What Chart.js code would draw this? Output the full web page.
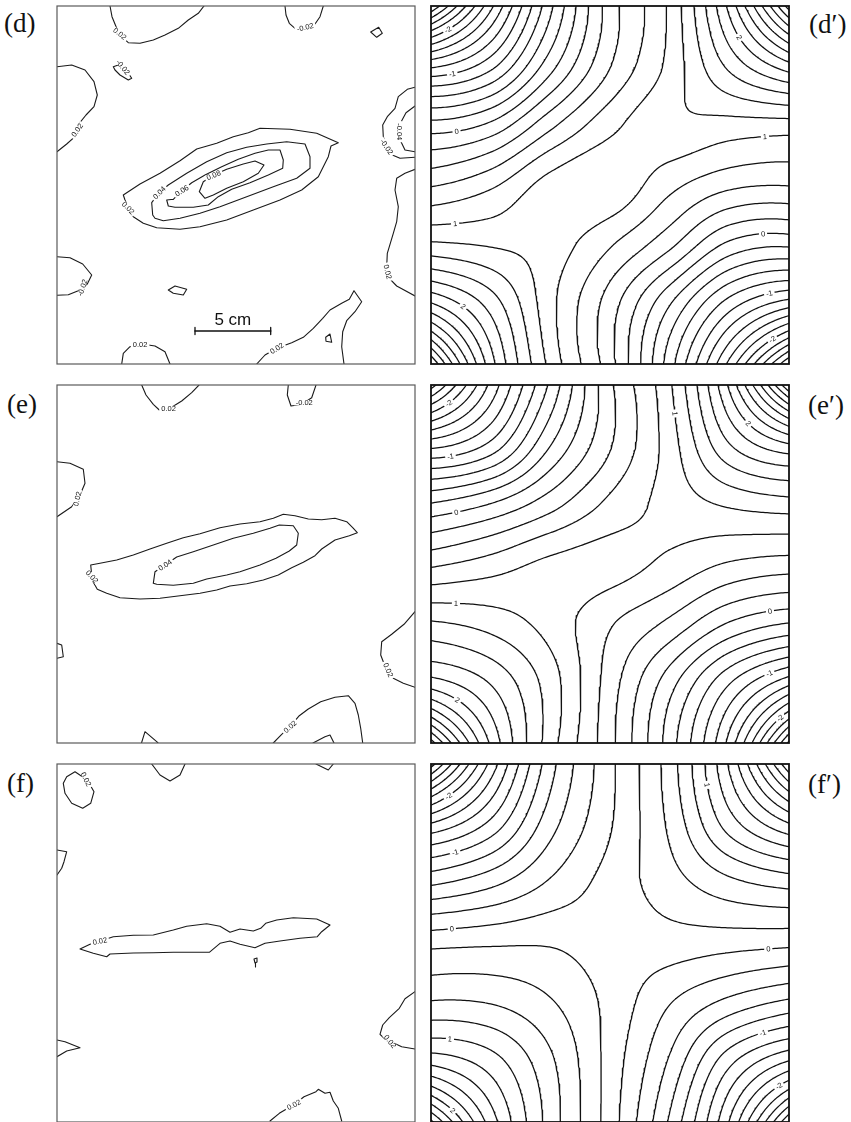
<!DOCTYPE html>
<html>
<head>
<meta charset="utf-8">
<title>Contour maps (d)–(f), (d′)–(f′)</title>
<script src="https://cdn.jsdelivr.net/npm/chart.js@4.4.1/dist/chart.umd.min.js"></script>
<style>
  html, body { margin: 0; padding: 0; background: #fff; }
  #figure { position: relative; width: 851px; height: 1122px; overflow: hidden; background: #fff; }
  #figure canvas { position: absolute; }
  .tag { position: absolute; font-family: "Liberation Serif", "DejaVu Serif", serif; font-size: 27px; line-height: 27px; color: #111; white-space: nowrap; }
</style>
</head>
<body>
<div id="figure"></div>
<script>
// Plate extent in plate units (both axes).
const PLATE = 35.8;

// ---- Measured maps (d), (e), (f): contour polylines, [level, x0, y0, x1, y1, ...]
const dLines = [
  [0.02, 5.3,0, 5.5,1.07, 5.97,2.23, 6.47,3.07, 7.13,3.67, 8.3,3.73, 9.63,3.4, 10.8,2.9, 12.13,2.23, 13.13,1.4, 14.13,0.73, 14.7,0],
  [-0.02, 22.8,0, 22.9,0.9, 23.23,1.73, 23.8,2.23, 24.8,2.13, 25.8,1.8, 26.3,1.07, 26.63,0],
  [0.02, 31.37,2.6, 32.17,2.13, 32.53,2.73, 31.97,3.13, 31.37,2.6],
  [-0.02, 5.63,6.07, 6.13,5.9, 6.8,6.23, 7.47,7.23, 7.13,7.4, 6.3,6.9, 5.8,6.4, 5.63,6.07],
  [0.02, 0,6.07, 1.47,5.9, 2.8,6.4, 3.7,7.57, 4.03,8.9, 3.7,10.07, 2.9,10.9, 2.23,11.73, 1.8,13.07, 0.97,13.8, 0,14.57],
  [0.02, 6.63,18.9, 8.3,17.8, 10.3,16.73, 12.3,15.47, 13.97,14.3, 15.97,13.73, 17.63,13.07, 19.13,12.67, 20.3,12.23, 23.3,12.33, 25.97,12.73, 28.13,13.67, 27.4,14.0, 27.13,15.07, 26.13,17.07, 24.47,18.4, 22.3,19.4, 19.63,20.4, 16.97,21.4, 14.3,22.07, 12.3,22.33, 9.97,22.17, 8.63,21.73, 7.63,21.07, 7.13,20.23, 6.8,19.4, 6.63,18.9],
  [0.04, 9.57,20.9, 9.47,19.67, 10.23,18.67, 11.13,17.9, 12.97,16.73, 14.97,15.57, 16.97,14.67, 18.97,14.13, 20.97,13.8, 22.97,13.57, 24.8,13.8, 25.3,15.07, 25.3,16.23, 23.97,17.23, 21.63,18.07, 18.97,19.07, 16.3,20.07, 14.3,20.73, 12.3,21.23, 10.63,21.47, 9.8,21.23, 9.57,20.9],
  [0.06, 11.63,19.33, 12.47,18.47, 13.47,17.67, 14.8,16.9, 16.47,16.07, 18.13,15.33, 19.8,14.73, 21.13,14.4, 22.3,14.4, 22.63,15.4, 22.57,16.23, 21.13,16.9, 19.3,17.67, 17.47,18.33, 16.13,19.07, 15.13,19.9, 13.63,20.13, 11.8,20.13, 11.13,20.0, 10.97,19.4, 11.63,19.33],
  [0.08, 14.23,18.57, 14.63,17.57, 15.63,16.93, 16.97,16.33, 18.63,15.8, 19.8,15.5, 20.7,15.9, 20.13,16.73, 18.63,17.57, 16.97,18.23, 15.63,18.9, 14.8,19.23, 14.23,18.57],
  [-0.02, 35.8,8.13, 35.03,8.33, 34.13,9.07, 33.8,10.23, 33.03,11.07, 32.57,11.9, 32.63,13.07, 32.97,14.07, 33.3,14.8, 34.3,15.23, 35.8,15.13],
  [-0.04, 35.8,10.0, 34.9,10.67, 34.47,11.47, 34.3,12.57, 34.4,13.57, 34.8,14.4, 35.8,14.57],
  [0.02, 35.8,16.33, 34.8,16.73, 33.97,17.23, 33.8,18.4, 34.13,20.07, 33.97,21.57, 33.63,22.73, 33.03,24.73, 32.97,26.07, 33.23,27.23, 33.97,28.0, 35.8,29.0],
  [-0.02, 0,25.07, 1.3,25.17, 2.57,25.8, 3.47,26.9, 3.03,27.8, 2.13,28.47, 1.13,28.87, 0,28.93],
  [0.02, 11.13,28.4, 11.8,28.0, 12.97,28.33, 12.63,28.9, 11.63,28.73, 11.13,28.4],
  [0.02, 6.47,35.8, 6.63,34.73, 7.3,34.07, 8.47,33.8, 9.8,34.0, 10.8,34.57, 11.3,35.8],
  [0.02, 19.97,35.8, 20.8,34.9, 21.97,34.23, 23.47,33.67, 24.63,33.13, 25.63,32.23, 26.57,31.23, 27.3,30.4, 28.47,29.73, 29.23,29.33, 29.7,28.47, 30.47,29.57, 29.8,30.57, 28.97,31.47, 28.57,32.57, 28.47,34.07, 28.7,35.8],
  [0.02, 26.87,33.13, 27.3,32.8, 27.47,33.63, 26.9,33.53, 26.87,33.13]
];
const eLines = [
  [0.02, 8.47,0, 8.9,1.0, 9.63,1.93, 10.23,2.5, 11.3,2.33, 12.47,1.6, 13.47,0.77, 14.2,0],
  [-0.02, 23.13,0, 23.03,1.0, 23.4,2.1, 24.47,1.93, 25.47,1.27, 25.9,0],
  [0.02, 0,7.67, 1.3,7.83, 2.63,8.43, 2.8,9.83, 2.3,11.0, 1.47,12.17, 0,13.17],
  [0.02, 3.37,18.0, 4.3,17.83, 5.97,17.5, 7.63,17.0, 9.3,16.4, 10.97,15.83, 12.63,15.27, 14.3,14.87, 16.3,14.27, 18.3,13.9, 20.3,13.67, 21.63,13.33, 22.63,12.93, 23.8,13.07, 25.13,13.4, 26.47,13.47, 27.8,13.33, 28.97,13.67, 29.57,14.27, 30.03,14.77, 29.23,15.07, 27.8,15.5, 26.47,16.4, 25.8,17.07, 24.63,17.73, 23.47,18.27, 22.13,19.0, 20.63,19.5, 18.97,19.87, 17.3,20.1, 15.97,20.5, 14.3,20.83, 12.3,21.07, 10.3,21.33, 8.3,21.4, 6.3,21.27, 4.97,20.83, 4.03,20.43, 3.63,19.73, 3.47,19.0, 3.37,18.0],
  [0.04, 9.63,19.83, 9.8,18.67, 10.8,18.0, 11.97,17.2, 13.63,16.67, 15.63,16.0, 17.63,15.33, 19.63,14.83, 21.3,14.33, 22.23,14.0, 23.63,14.07, 24.13,14.83, 23.97,16.0, 23.23,16.6, 21.9,17.33, 20.3,18.0, 18.3,18.67, 16.97,19.0, 14.97,19.4, 13.63,19.83, 11.63,20.03, 9.97,19.93, 9.63,19.83],
  [0.02, 0,25.83, 0.47,26.0, 0.63,27.17, 0,27.33],
  [0.02, 35.8,22.67, 34.7,23.93, 33.47,24.93, 32.47,25.67, 32.37,27.0, 32.63,27.67, 33.63,29.33, 34.63,29.83, 35.8,30.23],
  [0.02, 21.63,35.8, 22.47,34.93, 23.3,34.17, 24.23,33.07, 25.13,32.4, 26.37,31.67, 27.8,31.23, 29.13,31.07, 29.8,31.83, 30.13,33.0, 30.37,34.33, 30.57,35.8],
  [0.02, 25.6,35.8, 26.8,35.17, 27.3,35.0, 27.7,35.8],
  [0.02, 8.45,35.8, 8.8,34.67, 9.97,35.67, 10.1,35.8]
];
const fLines = [
  [0.02, 0.97,1.27, 1.8,0.77, 3.03,1.6, 3.7,2.77, 3.37,3.93, 2.57,4.43, 1.47,3.93, 0.8,2.93, 0.63,1.93, 0.97,1.27],
  [0.02, 9.47,0, 10.3,1.1, 11.3,1.7, 12.3,1.1, 12.8,0],
  [0.02, 25.9,0, 27.13,0.6, 27.63,0],
  [0.02, 0,8.6, 0.97,8.77, 0.7,9.77, 0.47,10.43, 0,11.1],
  [0.02, 2.3,18.5, 3.3,18.03, 5.63,17.27, 7.63,17.13, 9.63,17.1, 11.63,16.6, 12.97,16.23, 14.97,15.97, 16.3,16.23, 17.3,16.83, 18.3,16.5, 19.63,16.7, 20.37,16.43, 20.87,15.93, 21.97,15.6, 23.63,15.37, 25.97,15.5, 27.3,16.1, 26.47,16.77, 26.03,17.27, 24.3,17.43, 22.3,17.7, 20.8,17.93, 19.8,18.37, 18.3,18.03, 17.3,17.7, 16.3,17.93, 15.23,18.83, 13.63,18.83, 11.63,18.83, 9.63,18.87, 7.63,18.9, 5.3,19.0, 4.97,19.27, 3.63,18.93, 2.3,18.5],
  [0.02, 19.7,19.5, 20.0,19.4, 20.0,19.8, 19.8,19.9, 19.7,19.5],
  [0.02, 19.85,19.9, 19.85,20.3],
  [0.02, 35.8,22.77, 34.8,23.47, 34.23,24.43, 33.23,25.37, 32.57,26.1, 32.3,27.03, 32.8,27.5, 34.47,28.27, 35.8,28.5],
  [0.02, 0,27.6, 0.8,27.77, 2.3,28.37, 0.97,28.7, 0,29.27],
  [0.02, 21.3,35.7, 22.23,34.93, 23.63,34.1, 24.7,33.27, 25.9,32.77, 26.13,32.53, 26.8,32.93, 27.3,32.83, 27.63,33.7, 28.13,34.43, 28.47,35.7]
];

// Where the contour values are printed on the measured maps.
const dLabelSpots = [[6.37,2.73],[24.8,2.07],[6.47,6.4],[1.97,12.4],[10.23,18.67],[12.47,18.45],[15.63,16.85],[7.03,20.23],[34.3,12.57],[33.0,14.07],[33.13,26.57],[2.5,28.1],[8.3,33.8],[21.97,34.23]];
const eLabelSpots = [[11.13,2.2],[24.7,1.73],[1.97,11.33],[10.8,18.0],[3.5,19.17],[33.13,28.5],[23.3,34.17]];
const fLabelSpots = [[2.63,1.93],[4.3,17.77],[33.3,27.77],[23.63,34.0]];

// ---- Model maps (d′), (e′), (f′): field on a 7 x 7 node grid, rows from top to bottom.
const dModelGrid = [
  [-3.0, -1.66, -0.45, 0.50, 1.04, 2.06, 3.5],
  [-1.25, -0.87, -0.08, 0.59, 1.06, 1.65, 2.13],
  [-0.12, 0.05, 0.55, 0.94, 1.15, 1.12, 1.11],
  [0.58, 0.76, 1.08, 1.15, 0.86, 0.65, 0.61],
  [1.24, 1.18, 1.1, 0.82, 0.45, -0.05, -0.16],
  [2.23, 1.72, 1.06, 0.5, -0.19, -0.9, -1.32],
  [3.61, 2.09, 1.14, 0.48, -0.51, -1.66, -3.01]
];
const eModelGrid = [
  [-2.7, -1.55, -0.56, 0.36, 0.97, 2.04, 3.61],
  [-1.28, -0.95, -0.21, 0.38, 0.9, 1.59, 1.98],
  [-0.18, 0.01, 0.32, 0.65, 0.87, 1.03, 1.11],
  [0.56, 0.69, 0.85, 0.88, 0.75, 0.58, 0.51],
  [1.23, 1.12, 0.92, 0.62, 0.35, -0.02, -0.21],
  [1.9, 1.59, 1.1, 0.5, -0.12, -0.79, -1.35],
  [3.3, 1.97, 1.09, 0.46, -0.3, -1.27, -2.85]
];
const fModelGrid = [
  [-3.1, -1.74, -0.68, -0.05, 0.5, 1.43, 2.79],
  [-1.59, -1.15, -0.48, -0.02, 0.44, 1.1, 1.59],
  [-0.63, -0.45, -0.17, 0.08, 0.31, 0.54, 0.67],
  [0.14, 0.17, 0.18, 0.1, 0.11, 0.08, 0.05],
  [0.62, 0.59, 0.42, 0.14, -0.19, -0.46, -0.65],
  [1.35, 1.1, 0.64, 0.12, -0.43, -1.15, -1.63],
  [2.65, 1.51, 0.71, 0.1, -0.63, -1.61, -3.0]
];
const modelInterval = 0.2;

// Labelled model contours: [value, near x, near y]
const dModelLabels = [[-2,1.9,2.73],[-1,2.17,7.0],[0,2.57,12.63],[1,2.4,21.67],[2,2.83,30.57],[2,31.23,2.9],[1,33.4,13.07],[0,33.23,23.13],[-1,33.83,28.73],[-2,34.07,33.23]];
const eModelLabels = [[-2,1.9,2.0],[-1,1.9,6.83],[0,2.5,12.57],[1,2.5,21.73],[2,2.63,31.5],[1,24.57,2.83],[2,32.57,3.0],[0,33.9,22.67],[-1,33.83,28.83],[-2,34.5,32.83]];
const fModelLabels = [[-2,1.9,3.43],[-1,2.4,8.77],[0,2.07,16.33],[1,1.9,27.43],[2,1.9,34.93],[1,28.57,1.93],[0,33.73,18.5],[-1,33.23,27.03],[-2,34.4,31.6]];

// Scale bar of map (d), plate units.
const scaleBarLabel = '5 cm';
const scaleBarFrom = 13.8, scaleBarTo = 21.37, scaleBarY = 32.5;

// ---------------------------------------------------------------------------
const SIZE = 358, PAD = 5;
const fig = document.getElementById('figure');

function toPolylines(lines) {
  return lines.map(arr => {
    const pts = [];
    for (let k = 1; k < arr.length; k += 2) pts.push({ x: arr[k], y: arr[k + 1] });
    return { level: arr[0], pts };
  });
}

// Smooth (Catmull-Rom) sampling of a node grid onto a fine lattice.
const N = 180;
function sampleGrid(grid) {
  const n = grid.length - 1;
  const at = (i, j) => {
    if (i < 0) return 3 * at(0, j) - 3 * at(1, j) + at(2, j);
    if (i > n) return 3 * at(n, j) - 3 * at(n - 1, j) + at(n - 2, j);
    if (j < 0) return 3 * at(i, 0) - 3 * at(i, 1) + at(i, 2);
    if (j > n) return 3 * at(i, n) - 3 * at(i, n - 1) + at(i, n - 2);
    return grid[j][i];
  };
  const P = [];
  for (let j = -1; j <= n + 1; j++) { const row = []; for (let i = -1; i <= n + 1; i++) row.push(at(i, j)); P.push(row); }
  const cr = (p0, p1, p2, p3, t) => p1 + 0.5 * t * ((p2 - p0) + t * ((2 * p0 - 5 * p1 + 4 * p2 - p3) + t * (3 * (p1 - p2) + p3 - p0)));
  const M = N + 1, F = new Float64Array(M * M);
  for (let b = 0; b < M; b++) {
    const v = b * n / N, j = Math.min(n - 1, Math.floor(v)), ty = v - j;
    for (let a = 0; a < M; a++) {
      const u = a * n / N, i = Math.min(n - 1, Math.floor(u)), tx = u - i;
      const r = [0, 0, 0, 0];
      for (let k = 0; k < 4; k++) { const row = P[j + k]; r[k] = cr(row[i], row[i + 1], row[i + 2], row[i + 3], tx); }
      F[b * M + a] = cr(r[0], r[1], r[2], r[3], ty);
    }
  }
  return F;
}

// Marching squares for one level; returns chained polylines in lattice units.
function traceLevel(F, L) {
  const M = N + 1, pos = new Map(), adj = new Map();
  const id = (t, i, j) => ((j * M + i) << 1) | t;
  const cross = (t, i, j) => {
    const k = id(t, i, j);
    if (!pos.has(k)) {
      const v1 = F[j * M + i], v2 = t === 0 ? F[j * M + i + 1] : F[(j + 1) * M + i];
      const s = (L - v1) / (v2 - v1);
      pos.set(k, t === 0 ? [i + s, j] : [i, j + s]);
    }
    return k;
  };
  const link = (p, q) => {
    if (!adj.has(p)) adj.set(p, []);
    if (!adj.has(q)) adj.set(q, []);
    adj.get(p).push(q); adj.get(q).push(p);
  };
  for (let j = 0; j < N; j++) {
    for (let i = 0; i < N; i++) {
      const a = F[j * M + i], b = F[j * M + i + 1], c = F[(j + 1) * M + i + 1], d = F[(j + 1) * M + i];
      const A = a >= L, B = b >= L, C = c >= L, D = d >= L;
      if (A === B && B === C && C === D) continue;
      const top = A !== B ? cross(0, i, j) : -1;
      const right = B !== C ? cross(1, i + 1, j) : -1;
      const bottom = D !== C ? cross(0, i, j + 1) : -1;
      const left = A !== D ? cross(1, i, j) : -1;
      const e = [top, right, bottom, left].filter(k => k >= 0);
      if (e.length === 2) link(e[0], e[1]);
      else if (e.length === 4) {
        const mid = (a + b + c + d) / 4 >= L;
        if (mid === A) { link(top, right); link(bottom, left); }
        else { link(top, left); link(right, bottom); }
      }
    }
  }
  const used = new Set(), out = [];
  const walk = start => {
    const line = [start]; used.add(start);
    let prev = -1, cur = start;
    for (;;) {
      const nb = adj.get(cur);
      let next = -1;
      for (const q of nb) if (q !== prev && !used.has(q)) { next = q; break; }
      if (next < 0) { if (line.length > 2 && nb.includes(start)) line.push(start); break; }
      prev = cur; cur = next; used.add(cur); line.push(cur);
    }
    return line.map(k => pos.get(k));
  };
  for (const [k, nb] of adj) if (nb.length === 1 && !used.has(k)) out.push(walk(k));
  for (const k of adj.keys()) if (!used.has(k)) out.push(walk(k));
  return out;
}

function modelPolylines(grid) {
  const F = sampleGrid(grid);
  let lo = Infinity, hi = -Infinity;
  for (const v of F) { if (v < lo) lo = v; if (v > hi) hi = v; }
  const polys = [];
  for (let k = Math.ceil(lo / modelInterval); k <= Math.floor(hi / modelInterval); k++) {
    const L = +(k * modelInterval).toFixed(3);
    for (const line of traceLevel(F, L)) {
      if (line.length < 2) continue;
      polys.push({ level: L, pts: line.map(p => ({ x: p[0] * PLATE / N, y: p[1] * PLATE / N })) });
    }
  }
  return polys;
}

// Nearest point on a set of polylines, with the local direction there.
function snap(polys, x, y) {
  let best = null, bd = Infinity;
  for (const p of polys) {
    const pts = p.pts;
    for (let k = 0; k < pts.length - 1; k++) {
      const a = pts[k], b = pts[k + 1];
      const dx = b.x - a.x, dy = b.y - a.y;
      const l2 = dx * dx + dy * dy || 1e-9;
      const t = Math.max(0, Math.min(1, ((x - a.x) * dx + (y - a.y) * dy) / l2));
      const qx = a.x + t * dx, qy = a.y + t * dy;
      const d = (qx - x) ** 2 + (qy - y) ** 2;
      if (d < bd) {
        bd = d;
        const a2 = pts[Math.max(0, k - 3)], b2 = pts[Math.min(pts.length - 1, k + 4)];
        best = { x: qx, y: qy, angle: Math.atan2(b2.y - a2.y, b2.x - a2.x), level: p.level };
      }
    }
  }
  if (best) {
    if (best.angle > Math.PI / 2) best.angle -= Math.PI;
    if (best.angle < -Math.PI / 2) best.angle += Math.PI;
  }
  return best;
}

function decorPlugin(labels, frame, extra) {
  return {
    id: 'decor',
    afterDatasetsDraw(chart) {
      const ctx = chart.ctx, sx = chart.scales.x, sy = chart.scales.y, ar = chart.chartArea;
      ctx.save();
      ctx.font = '7.5px "Liberation Sans", Arial, sans-serif';
      ctx.textAlign = 'center';
      ctx.textBaseline = 'middle';
      for (const lb of labels) {
        const px = sx.getPixelForValue(lb.x), py = sy.getPixelForValue(lb.y);
        ctx.save();
        ctx.translate(px, py);
        ctx.rotate(lb.angle);
        const w = ctx.measureText(lb.text).width;
        ctx.fillStyle = '#fff';
        ctx.fillRect(-w / 2 - 2, -2.7, w + 4, 5.4);
        ctx.fillStyle = '#111';
        ctx.fillText(lb.text, 0, 0.5);
        ctx.restore();
      }
      if (extra) extra(ctx, sx, sy);
      ctx.strokeStyle = frame.color;
      ctx.lineWidth = frame.width;
      ctx.strokeRect(ar.left, ar.top, ar.right - ar.left, ar.bottom - ar.top);
      ctx.restore();
    }
  };
}

function makeChart(left, top, datasets, plugin) {
  const cv = document.createElement('canvas');
  cv.width = SIZE + 2 * PAD; cv.height = SIZE + 2 * PAD;
  cv.style.left = (left - PAD) + 'px'; cv.style.top = (top - PAD) + 'px';
  cv.style.width = cv.width + 'px'; cv.style.height = cv.height + 'px';
  fig.appendChild(cv);
  return new Chart(cv, {
    type: 'scatter',
    data: { datasets },
    options: {
      responsive: false, animation: false, events: [],
      devicePixelRatio: 1,
      layout: { padding: PAD },
      plugins: { legend: { display: false }, tooltip: { enabled: false } },
      scales: {
        x: { type: 'linear', min: 0, max: PLATE, display: false },
        y: { type: 'linear', min: 0, max: PLATE, reverse: true, display: false }
      }
    },
    plugins: [plugin]
  });
}

function lineSet(pts, color, width) {
  return { data: pts, showLine: true, fill: false, tension: 0, borderColor: color, borderWidth: width,
           pointRadius: 0, pointHoverRadius: 0, borderJoinStyle: 'round', borderCapStyle: 'round' };
}

function measuredPanel(left, top, lines, spots, extraSets, extraDraw) {
  const polys = toPolylines(lines);
  const labels = spots.map(([x, y]) => {
    const s = snap(polys, x, y);
    return { x: s.x, y: s.y, angle: s.angle, text: s.level.toFixed(2) };
  });
  const sets = polys.map(p => lineSet(p.pts, '#1a1a1a', 1.1)).concat(extraSets || []);
  makeChart(left, top, sets, decorPlugin(labels, { color: '#5a5a5a', width: 1.2 }, extraDraw));
}

function modelPanel(left, top, grid, labelList) {
  const polys = modelPolylines(grid);
  const labels = [];
  for (const [lv, x, y] of labelList) {
    const cand = polys.filter(p => Math.abs(p.level - lv) < 1e-6);
    if (!cand.length) continue;
    const s = snap(cand, x, y);
    labels.push({ x: s.x, y: s.y, angle: s.angle, text: String(lv) });
  }
  const sets = polys.map(p => lineSet(p.pts, '#111', 1.25));
  makeChart(left, top, sets, decorPlugin(labels, { color: '#111', width: 1.8 }));
}

// Scale bar for (d)
const barSets = [
  lineSet([{ x: scaleBarFrom, y: scaleBarY }, { x: scaleBarTo, y: scaleBarY }], '#111', 1.6),
  lineSet([{ x: scaleBarFrom, y: scaleBarY - 0.35 }, { x: scaleBarFrom, y: scaleBarY + 0.35 }], '#111', 1.3),
  lineSet([{ x: scaleBarTo, y: scaleBarY - 0.35 }, { x: scaleBarTo, y: scaleBarY + 0.35 }], '#111', 1.3)
];
const barText = (ctx, sx, sy) => {
  ctx.font = '17px "Liberation Sans", Arial, sans-serif';
  ctx.fillStyle = '#111';
  ctx.textAlign = 'center';
  ctx.textBaseline = 'alphabetic';
  ctx.fillText(scaleBarLabel, sx.getPixelForValue((scaleBarFrom + scaleBarTo) / 2), sy.getPixelForValue(scaleBarY) - 6);
};

measuredPanel(57, 6, dLines, dLabelSpots, barSets, barText);
measuredPanel(57, 385, eLines, eLabelSpots);
measuredPanel(57, 764, fLines, fLabelSpots);
modelPanel(431, 6, dModelGrid, dModelLabels);
modelPanel(431, 385, eModelGrid, eModelLabels);
modelPanel(431, 764, fModelGrid, fModelLabels);

// Panel letters
[['(d)', 4, 10], ['(e)', 7, 391], ['(f)', 7, 770], ['(d\u2032)', 809, 11], ['(e\u2032)', 808, 392], ['(f\u2032)', 808, 771]]
  .forEach(([t, x, y]) => {
    const el = document.createElement('div');
    el.className = 'tag';
    el.textContent = t;
    el.style.left = x + 'px';
    el.style.top = y + 'px';
    fig.appendChild(el);
  });
</script>
</body>
</html>
